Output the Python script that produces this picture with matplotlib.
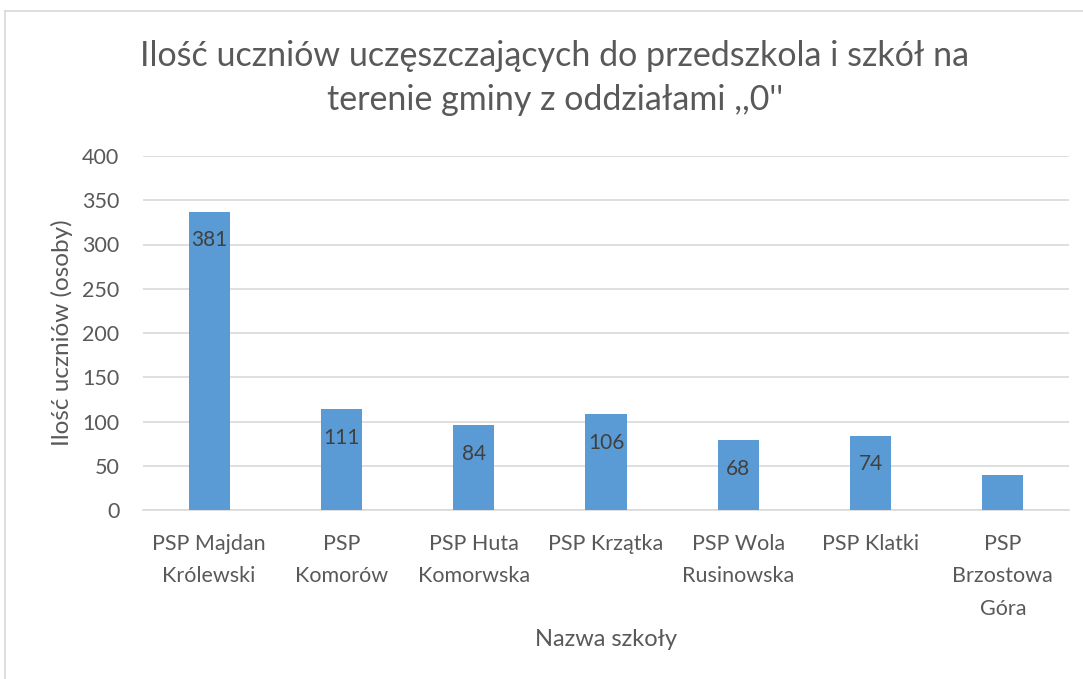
import matplotlib
matplotlib.use("Agg")
import matplotlib.pyplot as plt
from matplotlib.lines import Line2D

categories = ["PSP Majdan\nKrólewski", "PSP\nKomorów", "PSP Huta\nKomorwska", "PSP Krzątka",
              "PSP Wola\nRusinowska", "PSP Klatki", "PSP\nBrzostowa\nGóra"]
values = [337, 114, 96, 108, 79, 84, 40]
labels = ["381", "111", "84", "106", "68", "74", ""]
yticks = [0, 50, 100, 150, 200, 250, 300, 350, 400]

title = "Ilość uczniów uczęszczających do przedszkola i szkół na\nterenie gminy z oddziałami ,,0''"
xlabel = "Nazwa szkoły"
ylabel = "Ilość uczniów (osoby)"

plt.rcParams['font.family'] = ['Lato', 'DejaVu Sans']
W, H = 1083, 679
fig = plt.figure(figsize=(W / 100, H / 100), dpi=100)
ax = fig.add_axes([143 / W, 1 - 510 / H, (1069 - 143) / W, (510 - 156) / H])

txt = "#595959"
x = list(range(len(categories)))
bars = ax.bar(x, values, width=0.31, color="#5B9BD5", zorder=3)
for b, lab in zip(bars, labels):
    if lab:
        ax.annotate(lab, (b.get_x() + b.get_width() / 2, b.get_height()),
                    xytext=(0, -20.5), textcoords="offset points",
                    ha="center", va="center", fontsize=15, color="#404040", zorder=4)

ax.set_xlim(-0.5, len(categories) - 0.5)
ax.set_ylim(0, 400)
ax.set_yticks(yticks)
ax.set_xticks(x)
ax.set_xticklabels(categories, fontsize=15.5, color=txt, linespacing=1.8)
ax.tick_params(axis="y", labelsize=15.5, labelcolor=txt, length=0, pad=17)
ax.tick_params(axis="x", length=0, pad=17)
ax.grid(axis="y", color="#D9D9D9", linewidth=1.2, zorder=0)
for s in ["top", "right", "left"]:
    ax.spines[s].set_visible(False)
ax.spines["bottom"].set_color("#D9D9D9")
ax.spines["bottom"].set_linewidth(1.2)

fig.text(555 / W, 1 - 78 / H, title, ha="center", va="center", fontsize=24.5,
         color=txt, linespacing=1.45)
fig.text(62 / W, 1 - 333 / H, ylabel, rotation=90, ha="center", va="center",
         fontsize=17.5, color=txt)
fig.text(606 / W, 1 - 639 / H, xlabel, ha="center", va="center",
         fontsize=17, color=txt)

fig.add_artist(Line2D([4.5 / W, 4.5 / W], [0, 1 - 11 / H], color="#D9D9D9", lw=1.2))
fig.add_artist(Line2D([4.5 / W, 1], [1 - 11 / H, 1 - 11 / H], color="#D9D9D9", lw=1.2))

fig.savefig("out.png", dpi=100, facecolor="white")
